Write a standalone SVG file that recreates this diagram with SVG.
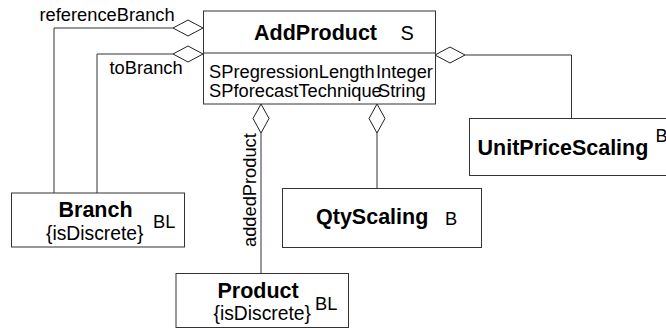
<svg xmlns="http://www.w3.org/2000/svg" width="666" height="329" viewBox="0 0 666 329">
<style>
.box{fill:#fff;stroke:#333;stroke-width:1}
.ln{fill:none;stroke:#333;stroke-width:1}
.dia{fill:#fff;stroke:#222;stroke-width:1}
text{font-family:"Liberation Sans",Arial,sans-serif;fill:#000}
.b{font-weight:bold;font-size:21.5px}
.r{font-size:18.3px}
.s{font-size:19.3px}
</style>
<rect width="666" height="329" fill="#fff"/>
<g id="connectors">
<polyline class="ln" points="173,28 54,28 54,193"/>
<polyline class="ln" points="173,54 97,54 97,193"/>
<polyline class="ln" points="465,55 571.5,55 571.5,118.5"/>
<line class="ln" x1="261" y1="133" x2="261" y2="273.5"/>
<line class="ln" x1="377" y1="133" x2="377" y2="188.5"/>
<polygon class="dia" points="203,28 188,20 173,28 188,36"/>
<polygon class="dia" points="203,54 188,46 173,54 188,62"/>
<polygon class="dia" points="435,55 450,47 465,55 450,63"/>
<polygon class="dia" points="261,104 269,118.5 261,133 253,118.5"/>
<polygon class="dia" points="377,104 385,118.5 377,133 369,118.5"/>
<text class="r" x="39.5" y="21">referenceBranch</text>
<text class="r" x="109.5" y="74">toBranch</text>
<text class="r" transform="translate(255.5,247) rotate(-90)">addedProduct</text>
</g>
<g id="AddProduct">
<rect class="box" x="203.5" y="11" width="232" height="93"/>
<line class="ln" x1="203.5" y1="53" x2="435.5" y2="53"/>
<text class="b" x="254" y="40">AddProduct</text>
<text class="r" x="400.5" y="40" style="font-size:20px">S</text>
<text class="r" x="209" y="77.5">SPregressionLength</text>
<text class="r" x="376" y="77.5">Integer</text>
<text class="r" x="209" y="96.5">SPforecastTechnique</text>
<text class="r" x="378" y="96.5">String</text>
</g>
<g id="Branch">
<rect class="box" x="11.5" y="193" width="173" height="54"/>
<text class="b" x="58.5" y="216.7">Branch</text>
<text class="s" x="46" y="240">{isDiscrete}</text>
<text class="r" x="153" y="228.3">BL</text>
</g>
<g id="Product">
<rect class="box" x="176" y="273.5" width="172.5" height="54"/>
<text class="b" x="217.5" y="298.3">Product</text>
<text class="s" x="213.5" y="320">{isDiscrete}</text>
<text class="r" x="315" y="310">BL</text>
</g>
<g id="QtyScaling">
<rect class="box" x="282.5" y="188.5" width="199" height="59"/>
<text class="b" x="316" y="224.3">QtyScaling</text>
<text class="r" x="445" y="225">B</text>
</g>
<g id="UnitPriceScaling">
<rect class="box" x="469.5" y="118.5" width="205" height="57"/>
<text class="b" x="477.5" y="155">UnitPriceScaling</text>
<text class="r" x="655.5" y="141.7">B</text>
</g>
</svg>
